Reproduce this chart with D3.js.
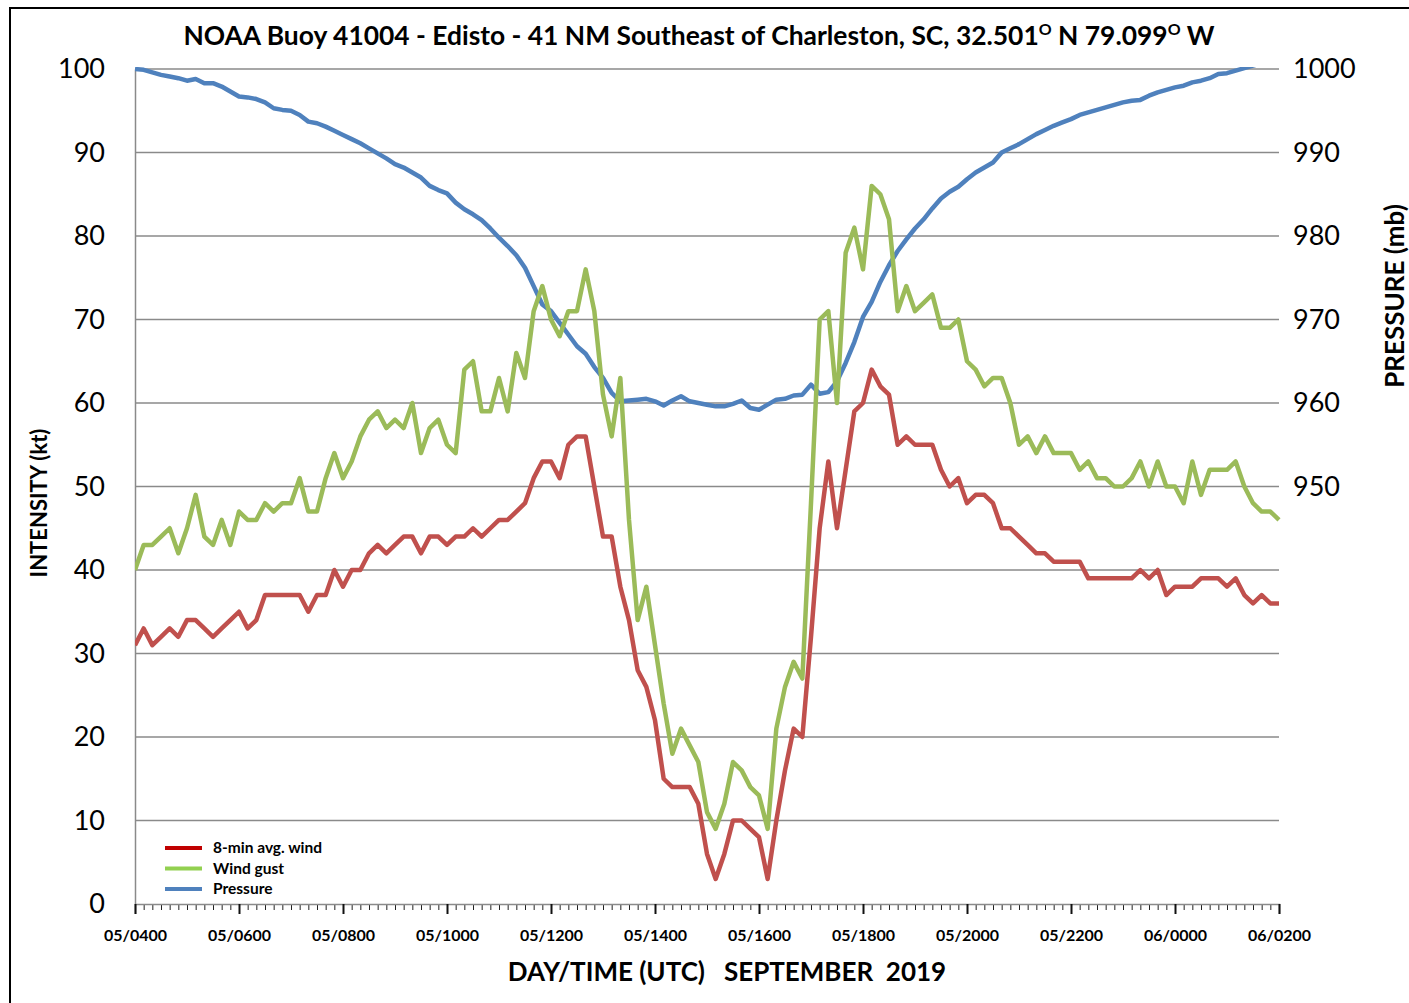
<!DOCTYPE html>
<html>
<head>
<meta charset="utf-8">
<script src="https://cdn.jsdelivr.net/npm/d3@7"></script>
<style>
  body { margin: 0; background: #fff; }
  text { font-family: Lato, "Open Sans", sans-serif; }
</style>
</head>
<body>
<div id="chart"></div>
<script>
// buoy 41004 observations, every 10 min from 05/0400 to 06/0200 UTC
var startTime = "2019-09-05T04:00:00Z";
var stepMinutes = 10;

var windAvg = [31, 33, 31, 32, 33, 32, 34, 34, 33, 32, 33, 34, 35, 33, 34, 37, 37, 37, 37, 37,
    35, 37, 37, 40, 38, 40, 40, 42, 43, 42, 43, 44, 44, 42, 44, 44, 43, 44, 44, 45,
    44, 45, 46, 46, 47, 48, 51, 53, 53, 51, 55, 56, 56, 50, 44, 44, 38, 34, 28, 26,
    22, 15, 14, 14, 14, 12, 6, 3, 6, 10, 10, 9, 8, 3, 10, 16, 21, 20, 32, 45,
    53, 45, 52, 59, 60, 64, 62, 61, 55, 56, 55, 55, 55, 52, 50, 51, 48, 49, 49, 48,
    45, 45, 44, 43, 42, 42, 41, 41, 41, 41, 39, 39, 39, 39, 39, 39, 40, 39, 40, 37,
    38, 38, 38, 39, 39, 39, 38, 39, 37, 36, 37, 36, 36];

var windGust = [40, 43, 43, 44, 45, 42, 45, 49, 44, 43, 46, 43, 47, 46, 46, 48, 47, 48, 48, 51,
    47, 47, 51, 54, 51, 53, 56, 58, 59, 57, 58, 57, 60, 54, 57, 58, 55, 54, 64, 65,
    59, 59, 63, 59, 66, 63, 71, 74, 70, 68, 71, 71, 76, 71, 61, 56, 63, 46, 34, 38,
    31, 24, 18, 21, 19, 17, 11, 9, 12, 17, 16, 14, 13, 9, 21, 26, 29, 27, 48, 70,
    71, 60, 78, 81, 76, 86, 85, 82, 71, 74, 71, 72, 73, 69, 69, 70, 65, 64, 62, 63,
    63, 60, 55, 56, 54, 56, 54, 54, 54, 52, 53, 51, 51, 50, 50, 51, 53, 50, 53, 50,
    50, 48, 53, 49, 52, 52, 52, 53, 50, 48, 47, 47, 46];

var pressure = [1000, 999.9, 999.6, 999.3, 999.1, 998.9, 998.6, 998.8, 998.3, 998.3,
    997.9, 997.3, 996.7, 996.6, 996.4, 996.0, 995.3, 995.1, 995.0, 994.5,
    993.7, 993.5, 993.1, 992.6, 992.1, 991.6, 991.1, 990.5, 989.9, 989.3,
    988.6, 988.2, 987.6, 987.0, 986.0, 985.5, 985.1, 984.0, 983.2, 982.6,
    981.9, 980.9, 979.8, 978.8, 977.7, 976.2, 974.0, 971.8, 971.0, 969.6,
    968.2, 966.8, 965.9, 964.3, 963.0, 961.2, 960.2, 960.3, 960.4, 960.5,
    960.2, 959.7, 960.3, 960.8, 960.2, 960.0, 959.8, 959.6, 959.6, 959.9,
    960.3, 959.4, 959.2, 959.8, 960.4, 960.5, 960.9, 961.0, 962.2, 961.1,
    961.3, 962.6, 964.8, 967.3, 970.3, 972.1, 974.5, 976.5, 978.2, 979.6,
    980.9, 982.0, 983.3, 984.5, 985.3, 985.9, 986.8, 987.6, 988.2, 988.8,
    990.0, 990.5, 991.0, 991.6, 992.2, 992.7, 993.2, 993.6, 994.0, 994.5,
    994.8, 995.1, 995.4, 995.7, 996.0, 996.2, 996.3, 996.8, 997.2, 997.5,
    997.8, 998.0, 998.4, 998.6, 998.9, 999.4, 999.5, 999.8, 1000.1, 1000.4,
    1000.7, 1001.0, 1001.2];

var intensityTicks = [0, 10, 20, 30, 40, 50, 60, 70, 80, 90, 100];
var pressureTicks = [950, 960, 970, 980, 990, 1000];
var seriesNames = ["8-min avg. wind", "Wind gust", "Pressure"];
var seriesColors = ["#C0504D", "#9BBB59", "#4F81BD"];
var legendColors = ["#C00000", "#92D050", "#4F81BD"];

function draw() {
    // setup dimensions
    var width = 1409;
    var height = 1003;
    var plotLeft = 135, plotRight = 1279, plotTop = 69, plotBottom = 904;

    var svg = d3.select("#chart").append("svg")
        .attr("width", width)
        .attr("height", height);

    // frame round the chart
    svg.append("rect")
        .attr("x", 10)
        .attr("y", 8)
        .attr("width", width + 20)
        .attr("height", height + 20)
        .style("fill", "none")
        .style("stroke", "#000")
        .style("stroke-width", 2);

    // scales
    var t0 = new Date(startTime);
    var timeOf = function (i) { return new Date(t0.getTime() + i * stepMinutes * 60000); };
    var tEnd = timeOf(windAvg.length - 1);

    var x_scale = d3.scaleUtc().domain([t0, tEnd]).range([plotLeft, plotRight]);
    var y_scale = d3.scaleLinear().domain([0, 100]).range([plotBottom, plotTop]);
    var p_scale = d3.scaleLinear().domain([900, 1000]).range([plotBottom, plotTop]);

    // gridlines
    svg.append("g")
        .selectAll("line")
        .data(intensityTicks.slice(1))
        .enter()
        .append("line")
        .attr("x1", plotLeft)
        .attr("x2", plotRight)
        .attr("y1", function (d) { return y_scale(d); })
        .attr("y2", function (d) { return y_scale(d); })
        .style("stroke", "#8a8a8a")
        .style("stroke-width", 1.5);

    // left axis
    var y_axis = d3.axisLeft(y_scale).tickValues(intensityTicks).tickSize(0).tickPadding(30);
    var gy = svg.append("g")
        .attr("transform", "translate(" + plotLeft + ",0)")
        .call(y_axis);
    gy.select(".domain").style("stroke", "#8a8a8a").style("stroke-width", 1.5);
    gy.selectAll("text")
        .style("font-size", "27px")
        .style("fill", "#000");

    // right axis, labels only
    var p_axis = d3.axisRight(p_scale)
        .tickValues(pressureTicks)
        .tickFormat(d3.format("d"))
        .tickSize(0)
        .tickPadding(14);
    var gp = svg.append("g")
        .attr("transform", "translate(" + plotRight + ",0)")
        .call(p_axis);
    gp.select(".domain").remove();
    gp.selectAll("text")
        .style("font-size", "27px")
        .style("fill", "#000");

    // bottom axis: minor ticks every 10 min, major every 2 h
    var minor_axis = d3.axisBottom(x_scale)
        .ticks(d3.utcMinute.every(stepMinutes))
        .tickSize(6)
        .tickFormat("");
    var gmin = svg.append("g")
        .attr("transform", "translate(0," + plotBottom + ")")
        .call(minor_axis);
    gmin.selectAll(".tick line").style("stroke", "#222").style("stroke-width", 1);
    gmin.select(".domain").remove();

    var x_axis = d3.axisBottom(x_scale)
        .ticks(d3.utcHour.every(2))
        .tickSize(10)
        .tickPadding(16)
        .tickFormat(d3.utcFormat("%d/%H%M"));
    var gx = svg.append("g")
        .attr("transform", "translate(0," + plotBottom + ")")
        .call(x_axis);
    gx.select(".domain").style("stroke", "#8a8a8a").style("stroke-width", 1.5);
    gx.selectAll(".tick line").style("stroke", "#111").style("stroke-width", 2);
    gx.selectAll("text")
        .style("font-size", "16px")
        .style("font-weight", "bold")
        .style("fill", "#000");

    // clip so pressure above 1000 mb is cut at the top of the plot
    svg.append("clipPath")
        .attr("id", "plotClip")
        .append("rect")
        .attr("x", plotLeft)
        .attr("y", plotTop - 2)
        .attr("width", plotRight - plotLeft + 4)
        .attr("height", plotBottom - plotTop + 2);

    var windLine = d3.line()
        .x(function (d, i) { return x_scale(timeOf(i)); })
        .y(function (d) { return y_scale(d); });
    var pressLine = d3.line()
        .x(function (d, i) { return x_scale(timeOf(i)); })
        .y(function (d) { return p_scale(d); });

    var lines = svg.append("g").attr("clip-path", "url(#plotClip)");
    var series = [
        { values: pressure, line: pressLine, color: seriesColors[2] },
        { values: windGust, line: windLine, color: seriesColors[1] },
        { values: windAvg, line: windLine, color: seriesColors[0] }
    ];
    series.forEach(function (s) {
        lines.append("path")
            .datum(s.values)
            .attr("d", s.line)
            .style("fill", "none")
            .style("stroke", s.color)
            .style("stroke-width", 4.5)
            .style("stroke-linejoin", "round");
    });

    // title with superscript degree marks
    var title = svg.append("text")
        .attr("x", 699)
        .attr("y", 45)
        .attr("text-anchor", "middle")
        .style("font-size", "26.4px")
        .style("font-weight", "bold");
    title.append("tspan").text("NOAA Buoy 41004 - Edisto - 41 NM Southeast of Charleston, SC, 32.501");
    title.append("tspan").attr("dy", -10).style("font-size", "16px").text("O");
    title.append("tspan").attr("dy", 10).text(" N 79.099");
    title.append("tspan").attr("dy", -10).style("font-size", "16px").text("O");
    title.append("tspan").attr("dy", 10).text(" W");

    // axis titles
    svg.append("text")
        .attr("transform", "translate(47,503) rotate(-90)")
        .attr("text-anchor", "middle")
        .style("font-size", "22px")
        .style("font-weight", "bold")
        .text("INTENSITY (kt)");
    svg.append("text")
        .attr("transform", "translate(1404,296) rotate(-90)")
        .attr("text-anchor", "middle")
        .style("font-size", "26px")
        .style("font-weight", "bold")
        .text("PRESSURE (mb)");
    svg.append("text")
        .attr("x", 727)
        .attr("y", 981)
        .attr("text-anchor", "middle")
        .style("font-size", "26px")
        .style("font-weight", "bold")
        .style("white-space", "pre")
        .text("DAY/TIME (UTC)   SEPTEMBER  2019");

    // legend
    var legend = svg.append("g")
        .selectAll("g")
        .data(seriesNames)
        .enter()
        .append("g")
        .attr("transform", function (d, i) { return "translate(165," + (848 + i * 20.5) + ")"; });
    legend.append("line")
        .attr("x1", 0)
        .attr("x2", 37)
        .style("stroke", function (d, i) { return legendColors[i]; })
        .style("stroke-width", 4);
    legend.append("text")
        .attr("x", 48)
        .attr("y", 5)
        .style("font-size", "15.5px")
        .style("font-weight", "bold")
        .text(function (d) { return d; });
}

draw();
</script>
</body>
</html>
